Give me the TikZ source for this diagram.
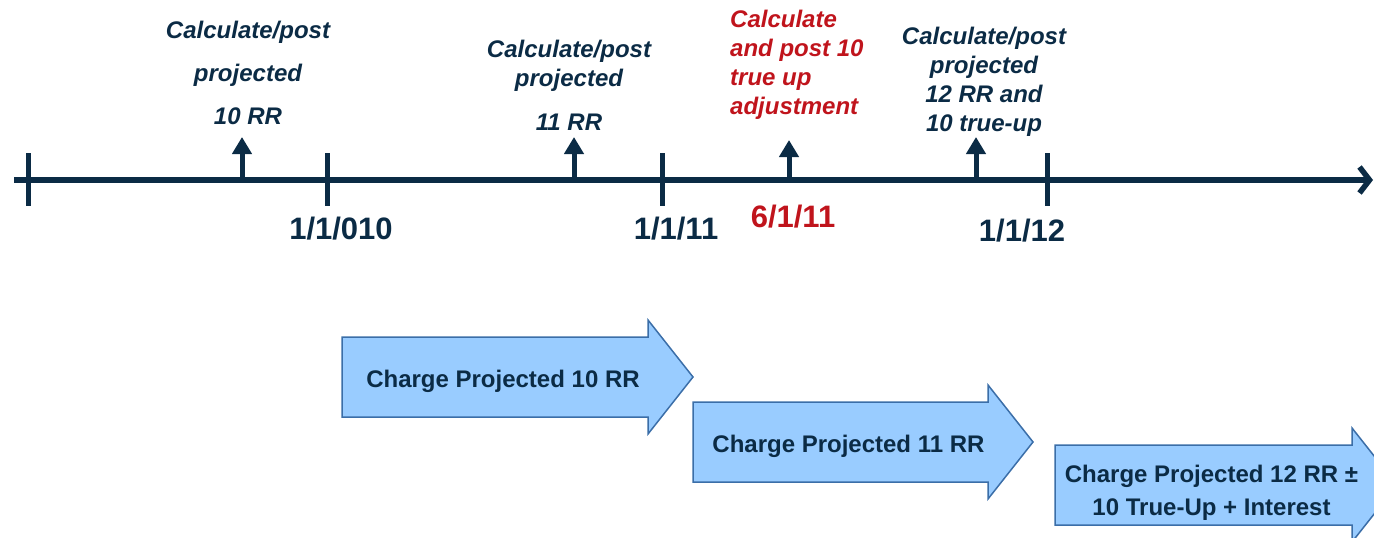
\documentclass[tikz,border=0pt]{standalone}
\usepackage{fontspec}
\setmainfont{Liberation Sans}
\usetikzlibrary{arrows.meta}
\definecolor{navy}{HTML}{0B2B45}
\definecolor{trueupred}{HTML}{C0141C}
\definecolor{chargefill}{HTML}{99CCFF}
\definecolor{chargeedge}{HTML}{3B6EA8}
\tikzset{
  note/.style={font=\fontsize{24}{29}\selectfont\bfseries\itshape, text=navy, align=center, inner sep=0pt, anchor=north},
  datelbl/.style={font=\fontsize{31}{36}\selectfont\bfseries, text=navy, inner sep=0pt},
  tickmark/.style={navy, line width=5pt},
  post/.style={navy, line width=5pt, -{Triangle[length=17pt,width=19pt]}},
  charge/.style={draw=chargeedge, fill=chargefill, line width=1.5pt, line join=miter},
  chargetext/.style={font=\fontsize{24}{33}\selectfont\bfseries, text=navy, align=center, inner sep=0pt}
}
\begin{document}
\begin{tikzpicture}[x=1pt, y=-1pt]
            \useasboundingbox (0,0) rectangle (1374,538);
            \clip (0,0) rectangle (1374,538);
            % time line
            \coordinate (start) at (14,180);
            \coordinate (end) at (1373,180);
            \draw[navy, line width=5.5pt, -{Straight Barb[length=10pt,width=26pt]}] (start) -- (end);
            \foreach \x in {28,327,662,1047}
            \draw[tickmark] (\x,153) -- (\x,206);
            \foreach \x/\t in {242/137,574/137,789/140,976/137}
            \draw[post] (\x,181) -- (\x,\t);
            % dates
            \node[datelbl] (d10) at (341,229) {1/1/010};
            \node[datelbl] (d11) at (676,229) {1/1/11};
            \node[datelbl, text=trueupred] (dtrue) at (793,217) {6/1/11};
            \node[datelbl] (d12) at (1022,231) {1/1/12};
            % notes
            \node[note, font=\fontsize{24}{43}\selectfont\bfseries\itshape] (n10) at (248,21) {Calculate/post\\projected\\10 RR};
            \node[note] (n11) at (569,40) {Calculate/post\\projected\\[15pt]11 RR};
            \node[note, text=trueupred, align=left, anchor=north west] (ntrue) at (730,10) {Calculate\\and post 10\\true up\\adjustment};
            \node[note] (n12) at (984,27) {Calculate/post\\projected\\12 RR and\\10 true-up};
            % charges
            \foreach \nm/\x/\y/\len/\ty/\txt in {c10/342/377/306/381/{Charge Projected 10 RR},c11/693/442/295/446/{Charge Projected 11 RR},c12/1055/485/297/493/{Charge Projected 12 RR ±\\10 True-Up + Interest}}
            {
            \draw[charge] (\x,\y-40) -- ++(\len,0) -- ++(0,-17) -- ++(45,57) -- ++(-45,57) -- ++(0,-17) -- ++(-\len,0) -- cycle;
            \node[chargetext] (\nm) at (\x+\len/2+8,\ty) {\txt};
            }
\end{tikzpicture}
\end{document}
